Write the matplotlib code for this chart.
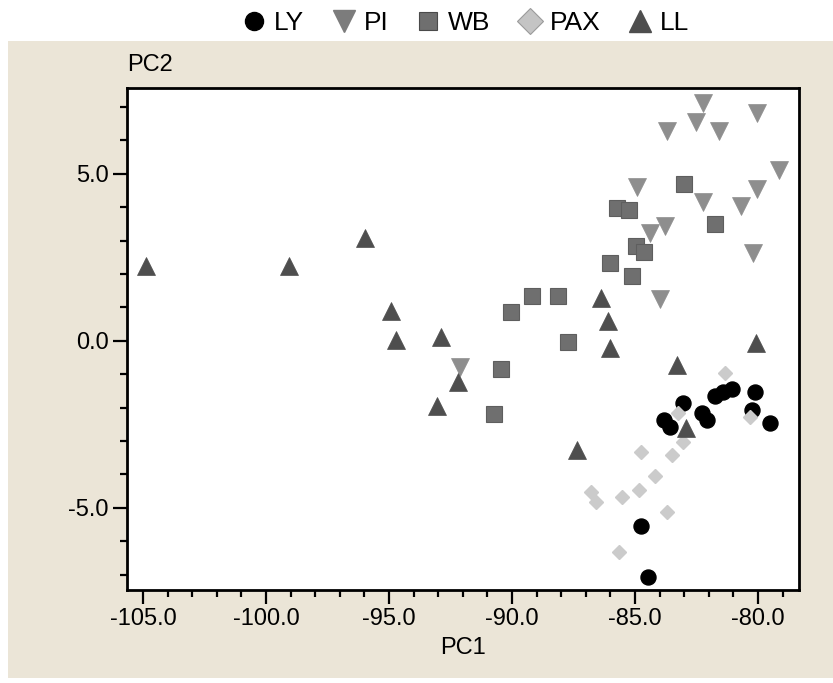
import matplotlib
matplotlib.use("Agg")
import matplotlib.pyplot as plt
from matplotlib.lines import Line2D
from matplotlib.patches import Rectangle
from matplotlib.ticker import MultipleLocator, FormatStrFormatter

plt.rcParams['font.family'] = ['Liberation Sans', 'DejaVu Sans']
plt.rcParams['axes.unicode_minus'] = False

# group scores on the first two principal components
ly_pc1 = [-83.82, -83.58, -83.04, -82.28, -82.07, -81.75, -81.41, -81.07,
          -80.12, -80.26, -79.51, -84.76, -84.46]
ly_pc2 = [-2.37, -2.57, -1.87, -2.16, -2.37, -1.65, -1.52, -1.45,
          -1.54, -2.07, -2.46, -5.54, -7.06]

pi_pc1 = [-82.22, -80.03, -82.53, -83.69, -81.57, -79.13, -84.93, -80.03,
          -82.22, -80.69, -83.78, -84.39, -80.19, -83.98, -92.11]
pi_pc2 = [7.12, 6.82, 6.54, 6.27, 6.27, 5.12, 4.60, 4.54,
          4.17, 4.04, 3.45, 3.22, 2.63, 1.26, -0.79]

wb_pc1 = [-83.02, -85.74, -85.23, -81.75, -84.96, -84.63, -86.02, -85.13,
          -89.20, -88.14, -90.05, -87.74, -90.45, -90.73]
wb_pc2 = [4.70, 3.97, 3.92, 3.49, 2.85, 2.67, 2.34, 1.93,
          1.35, 1.35, 0.86, -0.02, -0.85, -2.19]

pax_pc1 = [-81.34, -83.24, -80.33, -83.04, -83.51, -84.76, -84.19, -84.84,
           -85.54, -86.79, -86.59, -83.71, -85.64]
pax_pc2 = [-0.97, -2.16, -2.28, -3.04, -3.41, -3.33, -4.04, -4.48,
           -4.68, -4.53, -4.84, -5.11, -6.31]

ll_pc1 = [-104.86, -99.06, -95.96, -94.91, -94.71, -92.88, -92.2, -93.06,
          -86.38, -86.08, -86.02, -83.30, -80.09, -87.37, -82.93]
ll_pc2 = [2.24, 2.24, 3.09, 0.89, 0.03, 0.10, -1.24, -1.94,
          1.28, 0.60, -0.20, -0.72, -0.07, -3.26, -2.61]

groups = ['LY', 'PI', 'WB', 'PAX', 'LL']

fig = plt.figure(figsize=(8.33, 6.83), dpi=100)
fig.patch.set_facecolor('white')
# beige panel behind the plot
panel = Rectangle((8 / 833, 5 / 683), 825 / 833, 637 / 683, transform=fig.transFigure,
                  facecolor='#ebe5d7', edgecolor='none', zorder=-10)
fig.add_artist(panel)

ax = fig.add_axes([127 / 833, 1 - 590 / 683, 672 / 833, 502 / 683])
ax.set_zorder(1)
ax.set_facecolor('white')

ax.plot(ly_pc1, ly_pc2, 'o', ms=10.8, color='black', mec='black', zorder=3)
ax.plot(wb_pc1, wb_pc2, 's', ms=11.5, color='#6f6f6f', mec='#5e5e5e', mew=0.8, zorder=3)
ax.plot(pi_pc1, pi_pc2, 'v', ms=13.5, color='#8e8e8e', mec='#8e8e8e', mew=0.5, zorder=3)
ax.plot(pax_pc1, pax_pc2, 'D', ms=7.5, color='#cbcbcb', mec='#cbcbcb', zorder=4)
ax.plot(ll_pc1, ll_pc2, '^', ms=13.5, color='#4e4e4e', mec='#4e4e4e', mew=0.5, zorder=5)

ax.set_xlim(-105.65, -78.33)
ax.set_ylim(-7.46, 7.57)
ax.xaxis.set_major_locator(MultipleLocator(5))
ax.xaxis.set_minor_locator(MultipleLocator(1))
ax.yaxis.set_major_locator(MultipleLocator(5))
ax.yaxis.set_minor_locator(MultipleLocator(1))
ax.xaxis.set_major_formatter(FormatStrFormatter('%.1f'))
ax.yaxis.set_major_formatter(FormatStrFormatter('%.1f'))
ax.tick_params(which='major', direction='out', length=10, width=1.6, labelsize=17, pad=3)
ax.tick_params(which='minor', direction='out', length=5, width=1.6)
for s in ax.spines.values():
    s.set_linewidth(2)

ax.set_xlabel('PC1', fontsize=17, labelpad=5)
fig.text(127 / 833, 1 - 65 / 683, 'PC2', fontsize=17, ha='left', va='center', zorder=2)

handles = [
    Line2D([], [], ls='none', marker='o', ms=13, color='black'),
    Line2D([], [], ls='none', marker='v', ms=16, color='#7c7c7c'),
    Line2D([], [], ls='none', marker='s', ms=13, color='#6f6f6f', mec='#4a4a4a', mew=0.8),
    Line2D([], [], ls='none', marker='D', ms=13, color='#c4c4c4', mec='#9a9a9a', mew=0.8),
    Line2D([], [], ls='none', marker='^', ms=16, color='#4e4e4e'),
]
fig.legend(handles, groups, loc='center', bbox_to_anchor=(465 / 833, 1 - 23 / 683),
           ncol=5, frameon=False, fontsize=19, handlelength=1.0, handletextpad=0.25,
           columnspacing=1.0, borderaxespad=0)

fig.savefig('out.png', dpi=100)
